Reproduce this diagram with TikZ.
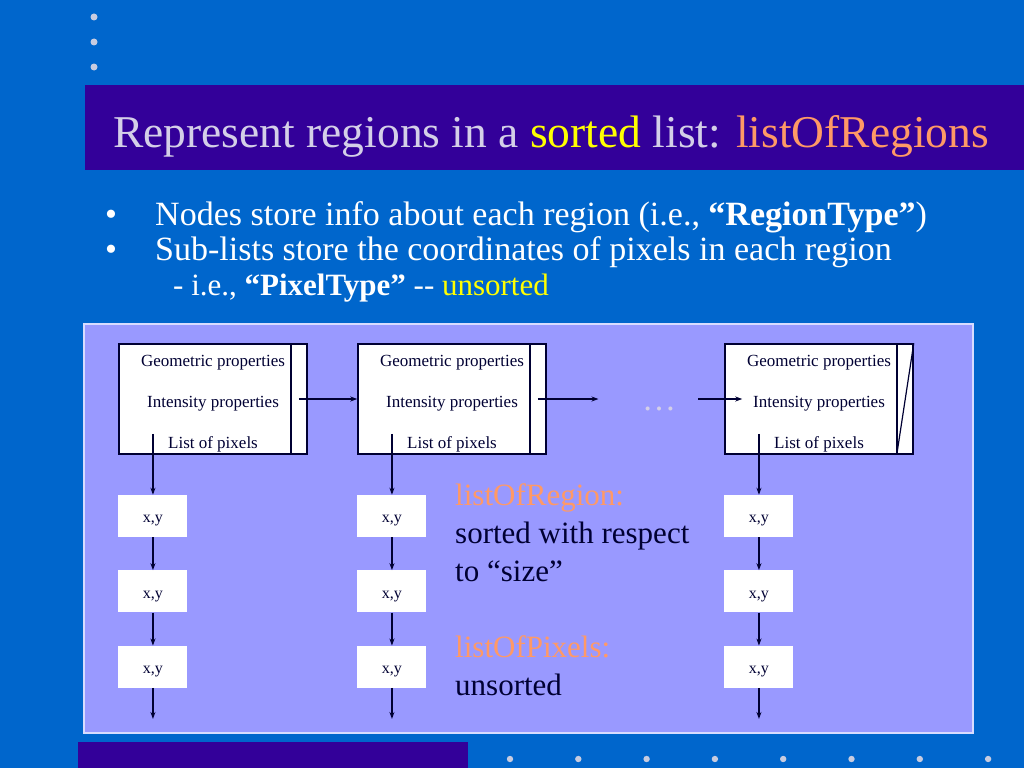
\documentclass[tikz,border=0pt]{standalone}
\usepackage{fontspec}
\setmainfont{Liberation Serif}
\usepackage{tikz}
\usetikzlibrary{positioning,arrows.meta,calc}
\definecolor{slideblue}{HTML}{0066CC}
\definecolor{titlebar}{HTML}{330099}
\definecolor{dotgrey}{HTML}{C8CCE0}
\definecolor{panel}{HTML}{9999FF}
\definecolor{panelrim}{HTML}{D8DCFF}
\definecolor{ink}{HTML}{000033}
\definecolor{titletext}{HTML}{D4CFE8}
\definecolor{hilite}{HTML}{FFFF00}
\definecolor{accent}{HTML}{FF9966}
\tikzset{
     regionbox/.style={rectangle, draw=ink, line width=1.5pt, fill=white,
                   minimum width=188pt, minimum height=110pt, inner sep=0pt,
                   align=center, text=ink, font=\fontsize{17}{41}\selectfont},
     pixbox/.style={rectangle, fill=white, minimum width=69pt, minimum height=42pt,
                   inner sep=0pt, text height=14pt, text depth=0pt,
                   text=ink, font=\fontsize{16}{18}\selectfont},
     arrow/.style={-{Stealth[length=7pt,width=5pt]}, draw=ink, line width=1.2pt}
     }
\tikzstyle{headline} = [anchor=base west, inner sep=0pt, text=titletext, font=\fontsize{45.5}{50}\selectfont]
\tikzstyle{bulletline} = [anchor=base west, inner sep=0pt, text=white, font=\fontsize{34}{38}\selectfont]
\tikzstyle{subline} = [anchor=base west, inner sep=0pt, text=white, font=\fontsize{31}{34}\selectfont]
\tikzstyle{remark} = [anchor=north west, inner sep=0pt, align=left, text=ink, font=\fontsize{31}{38}\selectfont]
\newcommand{\regionfields}{\rule{0pt}{20pt}Geometric properties\\Intensity properties\\List of pixels}

\begin{document}
\begin{tikzpicture}[x=1pt,y=-1pt]
% slide background
\fill[slideblue] (0,0) rectangle (1024,768);
\useasboundingbox (0,0) rectangle (1024,768);
\foreach \y in {17,42,67} \fill[dotgrey] (94,\y) circle (3.5pt);
\fill[titlebar] (85,85) rectangle (1024,170);
\fill[titlebar] (78,742) rectangle (468,768);
\foreach \i in {0,...,7} \fill[dotgrey] (510+68.3*\i,759) circle (3.2pt);
\filldraw[fill=panel, draw=panelrim, line width=1.5pt] (84,324) rectangle (973,733);

% title and bullets
\node [headline] (title) at (113,147) {Represent regions in a \textcolor{hilite}{sorted} list: \textcolor{accent}{listOfRegions}};
\node [bulletline] (b1) at (105,225) {•};
\node [bulletline] (t1) at (155,225) {Nodes store info about each region (i.e., \textbf{“RegionType”})};
\node [bulletline] (b2) at (105,260) {•};
\node [bulletline] (t2) at (155,260) {Sub-lists store the coordinates of pixels in each region};
\node [subline] (t3) at (173,295) {- i.e., \textbf{“PixelType”} -{}- \textcolor{hilite}{unsorted}};

% region nodes
\node [regionbox] (R1) at (213,399) {\regionfields};
\node [regionbox] (R2) at (452,399) {\regionfields};
\node [regionbox] (R3) at (819,399) {\regionfields};
\draw[ink, line width=1.5pt] ([xshift=-17pt]R1.north east) -- ([xshift=-17pt]R1.south east);
\draw[ink, line width=1.5pt] ([xshift=-17pt]R2.north east) -- ([xshift=-17pt]R2.south east);
\draw[ink, line width=1.5pt] ([xshift=-17pt]R3.north east) -- ([xshift=-17pt]R3.south east);
\draw[ink, line width=1.2pt] ([xshift=-17pt]R3.south east) -- (R3.north east); % null pointer

\node [text=titletext, font=\fontsize{34}{36}\selectfont] (dots) at (659,409) {…};

% pixel sub-lists
\node [pixbox, below right=40pt and 0pt of R1.south west] (P11) {x,y};
\node [pixbox, below=33pt of P11] (P12) {x,y};
\node [pixbox, below=33pt of P12] (P13) {x,y};
\node [pixbox, below right=40pt and 0pt of R2.south west] (P21) {x,y};
\node [pixbox, below=33pt of P21] (P22) {x,y};
\node [pixbox, below=33pt of P22] (P23) {x,y};
\node [pixbox, below right=40pt and 0pt of R3.south west] (P31) {x,y};
\node [pixbox, below=33pt of P31] (P32) {x,y};
\node [pixbox, below=33pt of P32] (P33) {x,y};
\coordinate [below=31pt of P13] (E1);
\coordinate [below=31pt of P23] (E2);
\coordinate [below=31pt of P33] (E3);

\node [remark] (note) at (455,483) {\textcolor{accent}{listOfRegion:}\\sorted with respect\\to “size”\\[38pt]\textcolor{accent}{listOfPixels:}\\unsorted};

%Lines
\draw[arrow] ([xshift=-9pt]R1.east) -- (R2.west);
\draw[arrow] ([xshift=-9pt]R2.east) -- ($(dots.west |- R2.east)+(-40,0)$);
\draw[arrow] ([xshift=-26pt]R3.west) -- ([xshift=18pt]R3.west);

\draw[arrow] ($(P11.north |- R1.south)+(0,-21)$) -- (P11);
\draw[arrow] ($(P21.north |- R2.south)+(0,-21)$) -- (P21);
\draw[arrow] ($(P31.north |- R3.south)+(0,-21)$) -- (P31);
\draw[arrow] (P11) -- (P12);
\draw[arrow] (P12) -- (P13);
\draw[arrow] (P13) -- (E1);
\draw[arrow] (P21) -- (P22);
\draw[arrow] (P22) -- (P23);
\draw[arrow] (P23) -- (E2);
\draw[arrow] (P31) -- (P32);
\draw[arrow] (P32) -- (P33);
\draw[arrow] (P33) -- (E3);
\end{tikzpicture}
\end{document}
